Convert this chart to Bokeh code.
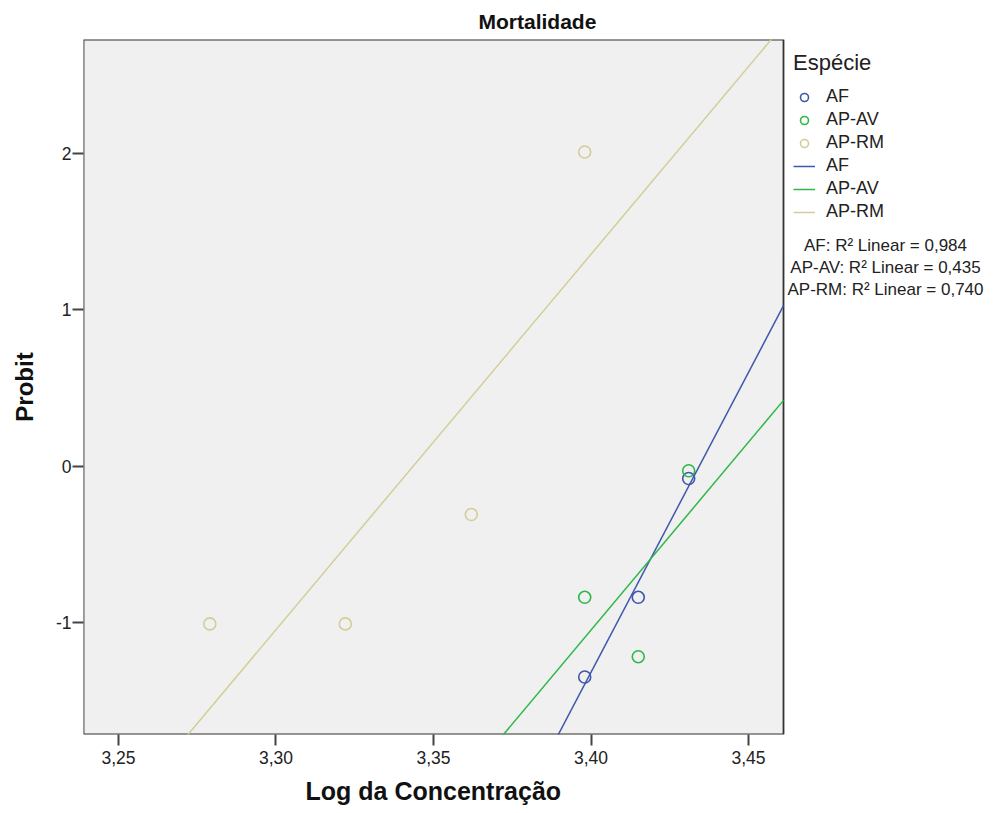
from bokeh.plotting import figure
from bokeh.models import (Legend, LegendItem, Label, FixedTicker, Title,
                          CustomJSTickFormatter, Range1d, BoxAnnotation)
from bokeh.embed import file_html
from bokeh.resources import INLINE
import numpy as np

# ---- data ----
species = ["AF", "AP-AV", "AP-RM"]
af_x = [3.398, 3.415, 3.431]
af_y = [-1.35, -0.84, -0.08]
av_x = [3.398, 3.415, 3.431]
av_y = [-0.84, -1.22, -0.03]
rm_x = [3.279, 3.322, 3.362, 3.398]
rm_y = [-1.01, -1.01, -0.31, 2.01]
r2_values = ["0,984", "0,435", "0,740"]
x_ticks = [3.25, 3.30, 3.35, 3.40, 3.45]
y_ticks = [-1, 0, 1, 2]

colors = ["#3E58AC", "#2EB848", "#D3CE97"]
FONT = "Liberation Sans"
DARK = "#222222"

x0, x1 = 3.2389, 3.4611          # visible plot area
y0, y1 = -1.718, 2.73
PLOT_W = 700                      # px of the grey plot area
EXTRA_W = 214                     # px to the right for legend / R² texts
px_per_x = PLOT_W / (x1 - x0)
x_ext = x1 + EXTRA_W / px_per_x

p = figure(frame_width=PLOT_W + EXTRA_W, frame_height=695,
           x_range=Range1d(x0, x_ext), y_range=Range1d(y0, y1),
           output_backend="svg", toolbar_location=None,
           min_border_left=83, min_border_right=0,
           min_border_top=38, min_border_bottom=70,
           title="Mortalidade")

p.title.align = "left"
p.title.text_font = FONT
p.title.text_font_size = "21px"
p.title.text_font_style = "bold"
p.title.text_color = "#111111"
p.title.offset = 395
p.title.standoff = 14

p.background_fill_color = "white"
p.border_fill_color = "white"
p.outline_line_color = None
p.grid.visible = False

plot_area = BoxAnnotation(left=x0, right=x1, bottom=y0, top=y1,
                          fill_color="#F0F0F0", fill_alpha=1,
                          line_color="#333333", line_alpha=1, line_width=1.8,
                          level="underlay")
p.add_layout(plot_area)

for ax in (p.xaxis[0], p.yaxis[0]):
    ax.axis_line_color = None
    ax.major_tick_in = 0
    ax.major_tick_out = 11
    ax.major_tick_line_color = "#444444"
    ax.major_tick_line_width = 2
    ax.minor_tick_line_color = None
    ax.major_label_text_font = FONT
    ax.major_label_text_font_size = "17.5px"
    ax.major_label_text_color = DARK
    ax.axis_label_text_font = FONT
    ax.axis_label_text_font_size = "24px"
    ax.axis_label_text_font_style = "bold"
    ax.axis_label_text_color = "#111111"

p.xaxis.bounds = (x0, x1)
p.xaxis.ticker = FixedTicker(ticks=x_ticks)
p.yaxis.ticker = FixedTicker(ticks=y_ticks)
p.xaxis.formatter = CustomJSTickFormatter(code="return tick.toFixed(2).replace('.', ',');")
p.yaxis.formatter = CustomJSTickFormatter(code="return tick.toFixed(0);")
p.yaxis.axis_label = "Probit"
p.xaxis.major_label_standoff = 5
p.yaxis.major_label_standoff = 1
p.yaxis.axis_label_standoff = 15

# x-axis title, placed under the grey plot area (not under the legend strip)
xtitle = Title(text="Log da Concentração", align="left", offset=222,
               text_font=FONT, text_font_size="25px", text_font_style="bold",
               text_color="#111111", standoff=17)
p.add_layout(xtitle, "below")

series = [(af_x, af_y), (av_x, av_y), (rm_x, rm_y)]
point_renderers = []
line_renderers = []
for (xs, ys), c in zip(series, colors):
    r = p.scatter(xs, ys, size=12, marker="circle", fill_color=None,
                  line_color=c, line_width=1.6)
    point_renderers.append(r)

for (xs, ys), c in zip(series, colors):
    xa = np.array(xs); ya = np.array(ys)
    slope, icpt = np.polyfit(xa, ya, 1)
    lx = [x0, x1]
    ly = [icpt + slope * x0, icpt + slope * x1]
    r = p.line(lx, ly, line_color=c, line_width=1.5)
    line_renderers.append(r)

items = [LegendItem(label=s, renderers=[r]) for s, r in zip(species, point_renderers)]
items += [LegendItem(label=s, renderers=[r]) for s, r in zip(species, line_renderers)]
legend = Legend(items=items, title="Espécie", location=(710, 512))
legend.title_text_font = FONT
legend.title_text_font_size = "22px"
legend.title_text_font_style = "normal"
legend.title_text_color = DARK
legend.title_standoff = 10
legend.label_text_font = FONT
legend.label_text_font_size = "18px"
legend.label_text_color = DARK
legend.label_height = 20
legend.glyph_height = 20
legend.glyph_width = 22
legend.spacing = 2
legend.label_standoff = 11
legend.padding = 0
legend.margin = 0
legend.border_line_color = None
legend.background_fill_alpha = 0
p.add_layout(legend)

# R² annotations (positioned relative to the frame)
for i, (s, v) in enumerate(zip(species, r2_values)):
    lab = Label(x=802, y=489 - i * 22, x_units="screen", y_units="screen",
                text=f"{s}: R² Linear = {v}", text_align="center",
                text_baseline="middle", text_font=FONT, text_font_size="17px",
                text_color=DARK)
    p.add_layout(lab)

open("out.html", "w").write(file_html(p, INLINE))
